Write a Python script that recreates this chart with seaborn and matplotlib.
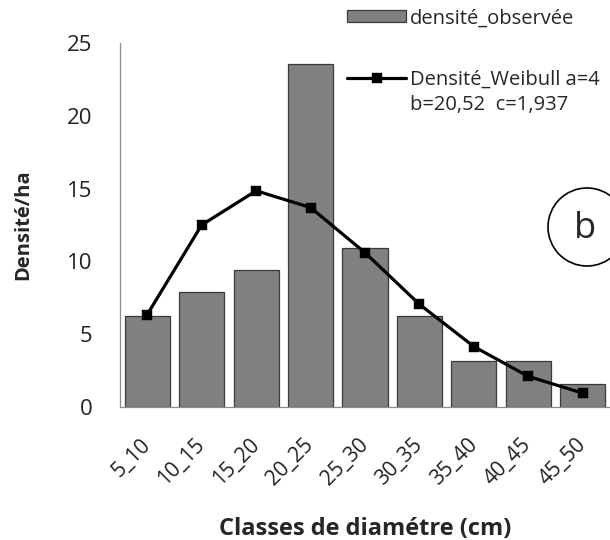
import matplotlib
matplotlib.use("Agg")
import matplotlib.pyplot as plt
from matplotlib.patches import Ellipse
from matplotlib.ticker import MultipleLocator
import seaborn as sns
import numpy as np

# --- data ---
categories = ["5_10", "10_15", "15_20", "20_25", "25_30", "30_35", "35_40", "40_45", "45_50"]
observed = [6.25, 7.9, 9.4, 23.55, 10.95, 6.25, 3.15, 3.15, 1.55]
weibull = [6.35, 12.5, 14.85, 13.7, 10.6, 7.05, 4.15, 2.1, 0.95]
yticks = [0, 5, 10, 15, 20, 25]
label_bar = "densité_observée"
label_line = "Densité_Weibull a=4"
label_line2 = "b=20,52  c=1,937"
xlabel = "Classes de diamétre (cm)"
ylabel = "Densité/ha"

sns.set_style("white")
plt.rcParams['font.family'] = ['Open Sans', 'DejaVu Sans']

fig = plt.figure(figsize=(6.1, 5.4), dpi=100)
ax = fig.add_axes([120/610, 1-407/540, 490/610, (407-43)/540])

sns.barplot(x=categories, y=observed, color="#808080", saturation=1, width=0.83,
            edgecolor="#3a3a3a", linewidth=0.9, ax=ax, label=label_bar)
sns.pointplot(x=categories, y=weibull, color="black", markers="s", markersize=6,
              linewidth=2.3, ax=ax, label=label_line)
if ax.get_legend() is not None:
    ax.get_legend().remove()

ax.set_xlim(-0.5, 8.5)
ax.set_ylim(0, 25)
ax.set_yticks(yticks)
ax.yaxis.set_minor_locator(MultipleLocator(1))
ax.tick_params(axis="y", which="both", direction="inout", length=12, width=0.9,
               color="#8c8c8c", labelsize=16, pad=14, labelcolor="#222222")
ax.tick_params(axis="x", which="both", length=0, labelsize=15, pad=25, labelcolor="#222222")
for lbl in ax.get_xticklabels():
    lbl.set_rotation(45)
    lbl.set_ha("right")
    lbl.set_va("center")
    lbl.set_rotation_mode("anchor")

for s in ["top", "right"]:
    ax.spines[s].set_visible(False)
for s in ["left", "bottom"]:
    ax.spines[s].set_color("#8c8c8c")
    ax.spines[s].set_linewidth(0.9)

ax.set_xlabel(xlabel, fontsize=17, fontweight="bold", labelpad=20)
ax.set_ylabel(ylabel, fontsize=14.5, fontweight="bold", labelpad=24)

handles, labels = ax.get_legend_handles_labels()
bar_h = [h for h, l in zip(handles, labels) if l == label_bar]
line_h = [h for h, l in zip(handles, labels) if l == label_line]
leg1 = fig.legend(bar_h, [label_bar], loc="center left", bbox_to_anchor=(347/610, 1-18.5/540),
                  frameon=False, fontsize=14.5, handlelength=2.93, handleheight=0.55,
                  handletextpad=0.2, borderaxespad=0, borderpad=0)
leg2 = fig.legend(line_h, [label_line], loc="center left", bbox_to_anchor=(347/610, 1-80/540),
                  frameon=False, fontsize=14.5, handlelength=2.93,
                  handletextpad=0.2, borderaxespad=0, borderpad=0)
fig.text(410/610, 1-110/540, label_line2, fontsize=14.5, ha="left", va="baseline")

circ = Ellipse((587/610, 1-227/540), 78/610, 78/540, transform=fig.transFigure,
               fill=False, edgecolor="black", linewidth=1.2, clip_on=False)
fig.add_artist(circ)
fig.text(585/610, 1-229/540, "b", fontsize=26, ha="center", va="center")

fig.savefig("out.png", dpi=100, facecolor="white")
